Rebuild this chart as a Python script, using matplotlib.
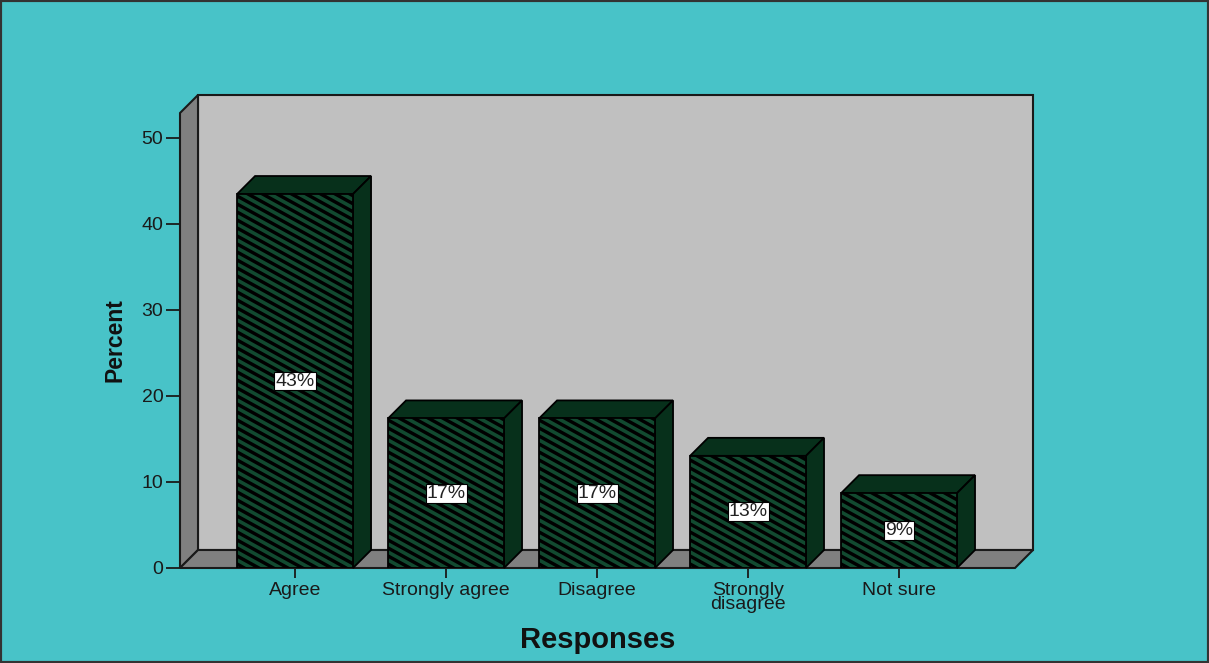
import numpy as np
import matplotlib
matplotlib.use("Agg")
import matplotlib.pyplot as plt
from matplotlib.patches import Polygon, Rectangle
from matplotlib.collections import LineCollection

# survey results (percent of respondents)
responses = ["Agree", "Strongly agree", "Disagree", "Strongly\ndisagree", "Not sure"]
percent = [43.48, 17.39, 17.39, 13.04, 8.70]
yticks = [0, 10, 20, 30, 40, 50]

teal = "#48c3c8"
wall_back = "#c0c0c0"
wall_side = "#808080"
bar_dark = "#07301b"
stripe = "#124a30"

plt.rcParams["font.family"] = ["Liberation Sans", "DejaVu Sans"]

fig = plt.figure(figsize=(12.09, 6.63), dpi=100)
fig.patch.set_facecolor(teal)

W, H = 1209, 663
# front frame of the 3-d box, in pixels
left_px, right_px, base_px, top_px = 180, 1015, 568, 113
ax = fig.add_axes([left_px / W, (H - base_px) / H,
                   (right_px - left_px) / W, (base_px - top_px) / H])
ax.set_facecolor("none")

xmin, xmax = -0.762, 4.768
ymax = 52.9
ax.set_xlim(xmin, xmax)
ax.set_ylim(0, ymax)

# depth offset of the 3-d effect, in data units
px_x = (right_px - left_px) / (xmax - xmin)
px_y = (base_px - top_px) / ymax
dx = 18 / px_x
dy = 18 / px_y

# back wall, left wall, floor
ax.add_patch(Polygon([(xmin + dx, dy), (xmax + dx, dy), (xmax + dx, ymax + dy),
                      (xmin + dx, ymax + dy)], closed=True, fc=wall_back,
                     ec="#1a1a1a", lw=1.5, clip_on=False, zorder=1))
ax.add_patch(Polygon([(xmin, 0), (xmin + dx, dy), (xmin + dx, ymax + dy), (xmin, ymax)],
                     closed=True, fc=wall_side, ec="#1a1a1a", lw=1.5,
                     clip_on=False, zorder=2))
ax.add_patch(Polygon([(xmin, 0), (xmax, 0), (xmax + dx, dy), (xmin + dx, dy)],
                     closed=True, fc=wall_side, ec="#1a1a1a", lw=1.5,
                     clip_on=False, zorder=2))

bw = 0.768
slope = -0.55 * px_x / px_y   # stripe slope in data units
period = 8 / px_y
for i, v in enumerate(percent):
    x0, x1 = i - bw / 2, i + bw / 2
    # top and side faces
    ax.add_patch(Polygon([(x0, v), (x1, v), (x1 + dx, v + dy), (x0 + dx, v + dy)],
                         closed=True, fc=bar_dark, ec="black", lw=1.3,
                         clip_on=False, zorder=4))
    ax.add_patch(Polygon([(x1, 0), (x1 + dx, dy), (x1 + dx, v + dy), (x1, v)],
                         closed=True, fc=bar_dark, ec="black", lw=1.3,
                         clip_on=False, zorder=4))
    # front face with diagonal stripes
    front = Polygon([(x0, 0), (x1, 0), (x1, v), (x0, v)], closed=True,
                    fc="black", ec="none", zorder=5)
    ax.add_patch(front)
    cs = np.arange(0, v - slope * bw + period, period)
    segs = [[(x0, c), (x1, c + slope * bw)] for c in cs]
    lc = LineCollection(segs, colors=stripe, linewidths=2.6, zorder=6)
    ax.add_collection(lc)
    lc.set_clip_path(front)
    ax.add_patch(Rectangle((x0, 0), bw, v, fc="none", ec="black", lw=1.3, zorder=7))
    ax.text(i, v / 2, f"{v:.0f}%", ha="center", va="center", fontsize=14,
            color="#222222", zorder=8,
            bbox=dict(boxstyle="square,pad=0.05", fc="white", ec="black", lw=0.8))

for s in ax.spines.values():
    s.set_visible(False)

ax.set_yticks(yticks)
ax.set_xticks(range(len(responses)))
ax.set_xticklabels(responses, linespacing=0.8)
ax.tick_params(axis="y", direction="out", length=10, width=1.3, pad=2,
               labelsize=14, colors="#1a1a1a")
ax.tick_params(axis="x", direction="out", length=7, width=1.3, pad=3,
               labelsize=14, colors="#1a1a1a")

ax.set_xlabel("Responses", fontsize=21, fontweight="bold", color="#111111")
ax.xaxis.set_label_coords(0.5, -0.158)
ax.xaxis.label.set_va("center")
ax.set_ylabel("Percent", fontsize=16.5, fontweight="bold", color="#111111")
ax.yaxis.set_label_coords(-0.078, 0.5)
ax.yaxis.label.set_va("center")

fig.add_artist(Rectangle((0, 0), 1, 1, transform=fig.transFigure, fill=False,
                         ec="#333333", lw=3))

fig.savefig("out.png", dpi=100, facecolor=teal)
